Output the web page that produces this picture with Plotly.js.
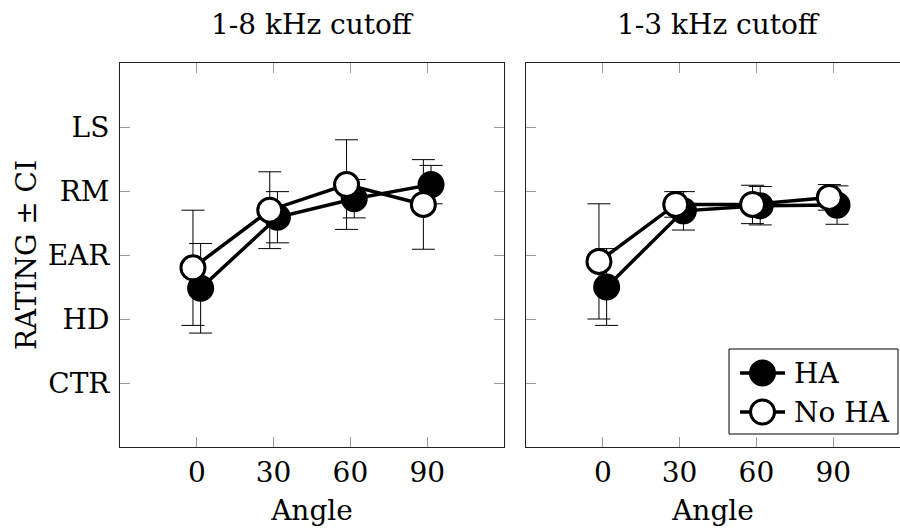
<!DOCTYPE html>
<html><head><meta charset="utf-8">
<script src="https://cdn.plot.ly/plotly-3.0.1.min.js"></script>
<style>html,body{margin:0;padding:0;background:#fff}</style>
</head><body><div id="chart" style="width:900px;height:529px"></div>
<script>
// ---- data ----
const angles = [0, 30, 60, 90];
const angleLabels = ['0', '30', '60', '90'];
const ratingValues = [1, 2, 3, 4, 5];
const ratingLabels = ['CTR', 'HD', 'EAR', 'RM', 'LS'];
const panelTitles = ['1-8 kHz cutoff', '1-3 kHz cutoff'];
const seriesNames = ['HA', 'No HA'];
// 1-8 kHz cutoff
const ha8 = [2.48, 3.59, 3.88, 4.10];
const ha8ci = [0.70, 0.40, 0.30, 0.30];
const noha8 = [2.80, 3.70, 4.10, 3.79];
const noha8ci = [0.90, 0.60, 0.70, 0.70];
// 1-3 kHz cutoff
const ha3 = [2.50, 3.69, 3.77, 3.78];
const ha3ci = [0.60, 0.30, 0.30, 0.30];
const noha3 = [2.90, 3.79, 3.79, 3.90];
const noha3ci = [0.90, 0.20, 0.30, 0.20];

// ---- styling ----
const FONT = 'DejaVu Serif';
const FS = 28;
const W = 900, H = 529, ML = 120, MT = 63, MB = 82, MR = 0;
const PW = W - ML - MR, PH = H - MT - MB;
const px2x = p => (p - ML) / PW;
const py2y = p => (H - MB - p) / PH;
const SHIFT = { HA: 1.5, 'No HA': -1.5 };

function trace(name, y, ci, filled, xa, ya) {
  return {
    type: 'scatter', mode: 'lines+markers', name: name,
    x: angles.map(a => a + SHIFT[name]), y: y,
    xaxis: xa, yaxis: ya, showlegend: false, cliponaxis: false,
    line: { color: '#000', width: 3.5 },
    marker: { size: 24, color: filled ? '#000' : '#fff', line: { color: '#000', width: 3 } },
    error_y: { type: 'data', array: ci, visible: true, color: '#000', thickness: 1, width: 11.5 }
  };
}

const data = [
  trace(seriesNames[0], ha8, ha8ci, true, 'x', 'y'),
  trace(seriesNames[1], noha8, noha8ci, false, 'x', 'y'),
  trace(seriesNames[0], ha3, ha3ci, true, 'x2', 'y2'),
  trace(seriesNames[1], noha3, noha3ci, false, 'x2', 'y2')
];

const tickF = { family: FONT, size: FS, color: '#000' };
const baseX = {
  tickmode: 'array', tickvals: angles, ticktext: angleLabels,
  ticks: 'inside', ticklen: 10, tickcolor: '#9a9a9a', tickwidth: 1,
  showline: true, linecolor: '#222', linewidth: 1, mirror: 'ticks',
  showgrid: false, zeroline: false, tickfont: tickF, ticklabelstandoff: 0,
  title: { text: 'Angle', font: tickF, standoff: 12 }
};
const baseY = {
  range: [0, 6], tickmode: 'array', tickvals: ratingValues, ticktext: ratingLabels,
  ticks: 'inside', ticklen: 10, tickcolor: '#9a9a9a', tickwidth: 1,
  showline: true, linecolor: '#222', linewidth: 1,
  showgrid: false, zeroline: false, tickfont: tickF
};

const d1 = [0, (504 - ML) / PW];
const d2 = [(526 - ML) / PW, 1];

const layout = {
  width: W, height: H,
  margin: { l: ML, r: MR, t: MT, b: MB },
  paper_bgcolor: '#fff', plot_bgcolor: '#fff',
  font: { family: FONT, size: FS, color: '#000' },
  showlegend: false,
  xaxis: Object.assign({}, baseX, { domain: d1, range: [-30, 120], anchor: 'y' }),
  xaxis2: Object.assign({}, baseX, { domain: d2, range: [-30, 116.1], anchor: 'y2' }),
  yaxis: Object.assign({}, baseY, { domain: [0, 1], anchor: 'x', mirror: 'ticks', ticklabelstandoff: 4,
    title: { text: 'RATING ± CI', font: tickF, standoff: 2 } }),
  yaxis2: Object.assign({}, baseY, { domain: [0, 1], anchor: 'x2', mirror: false, showticklabels: false }),
  annotations: [
    { text: panelTitles[0], xref: 'paper', yref: 'paper', x: px2x(312), y: py2y(24),
      xanchor: 'center', yanchor: 'middle', showarrow: false, font: tickF },
    { text: panelTitles[1], xref: 'paper', yref: 'paper', x: px2x(718), y: py2y(24),
      xanchor: 'center', yanchor: 'middle', showarrow: false, font: tickF },
    { text: seriesNames[0], xref: 'paper', yref: 'paper', x: px2x(792), y: py2y(373),
      xanchor: 'left', yanchor: 'middle', showarrow: false, font: tickF },
    { text: seriesNames[1], xref: 'paper', yref: 'paper', x: px2x(792), y: py2y(412),
      xanchor: 'left', yanchor: 'middle', showarrow: false, font: tickF }
  ],
  shapes: [
    { type: 'rect', xref: 'paper', yref: 'paper', x0: px2x(729), x1: px2x(898), y0: py2y(434), y1: py2y(349),
      line: { color: '#000', width: 1 }, fillcolor: '#fff', layer: 'above' },
    { type: 'line', xref: 'paper', yref: 'paper', x0: px2x(740), x1: px2x(785), y0: py2y(373), y1: py2y(373),
      line: { color: '#000', width: 3.5 }, layer: 'above' },
    { type: 'circle', xref: 'paper', yref: 'paper', xsizemode: 'pixel', ysizemode: 'pixel',
      xanchor: px2x(762.5), yanchor: py2y(373), x0: -12, x1: 12, y0: -12, y1: 12,
      line: { color: '#000', width: 3 }, fillcolor: '#000', layer: 'above' },
    { type: 'line', xref: 'paper', yref: 'paper', x0: px2x(740), x1: px2x(785), y0: py2y(412), y1: py2y(412),
      line: { color: '#000', width: 3.5 }, layer: 'above' },
    { type: 'circle', xref: 'paper', yref: 'paper', xsizemode: 'pixel', ysizemode: 'pixel',
      xanchor: px2x(762.5), yanchor: py2y(412), x0: -12, x1: 12, y0: -12, y1: 12,
      line: { color: '#000', width: 3 }, fillcolor: '#fff', layer: 'above' }
  ]
};

Plotly.newPlot('chart', data, layout, { displayModeBar: false, staticPlot: true });
</script></body></html>
